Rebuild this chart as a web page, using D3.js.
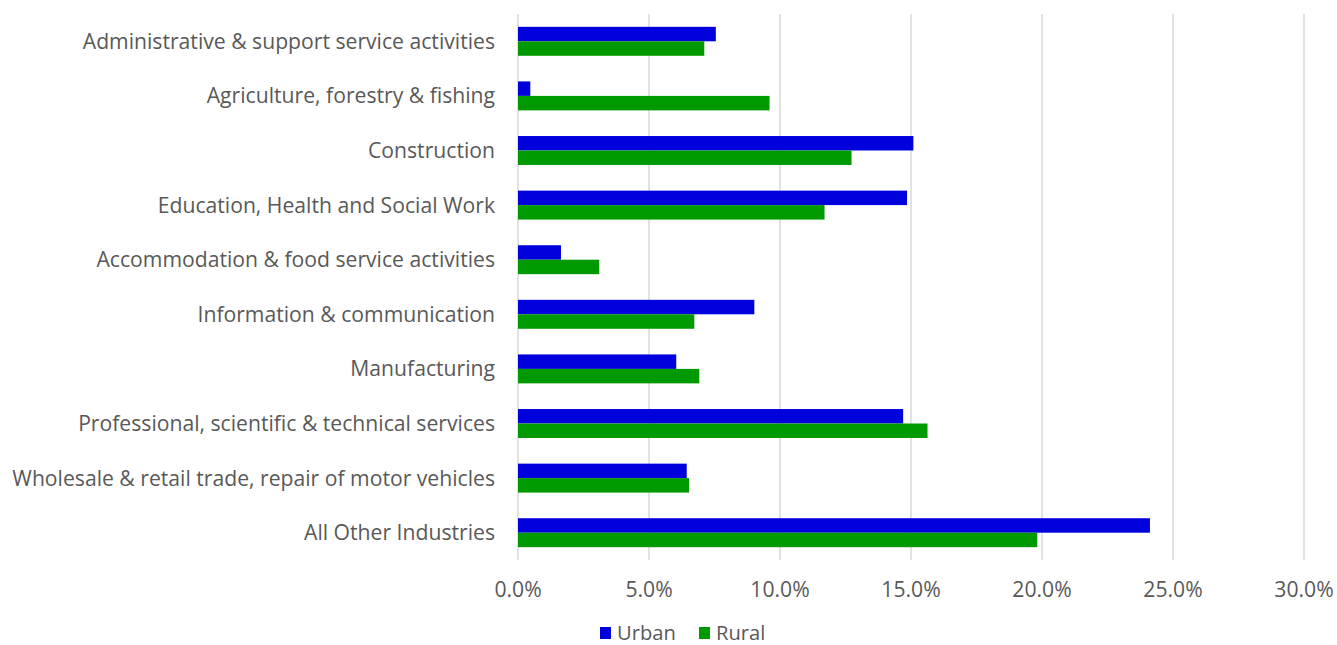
<!DOCTYPE html>
<html><head><meta charset="utf-8">
<script src="https://cdn.jsdelivr.net/npm/d3@7"></script>
<style>body{margin:0;background:#fff;} svg{display:block;}</style>
</head><body>
<svg id="chart" width="1337" height="645"></svg>
<script>
const categories = [
  "Administrative & support service activities",
  "Agriculture, forestry & fishing",
  "Construction",
  "Education, Health and Social Work",
  "Accommodation & food service activities",
  "Information & communication",
  "Manufacturing",
  "Professional, scientific & technical services",
  "Wholesale & retail trade, repair of motor vehicles",
  "All Other Industries"
];
const urban = [7.55, 0.47, 15.09, 14.85, 1.64, 9.02, 6.04, 14.7, 6.44, 24.12];
const rural = [7.11, 9.6, 12.73, 11.7, 3.1, 6.73, 6.92, 15.63, 6.53, 19.82];
const seriesNames = ["Urban", "Rural"];
const seriesColors = ["#0000dd", "#009900"];
const xTicks = [0, 5, 10, 15, 20, 25, 30];

const svg = d3.select("#chart");
const font = "'Open Sans', sans-serif";
const textColor = "#595959";

const x = d3.scaleLinear().domain([0, 30]).range([518, 1304]);
const y = d3.scaleBand().domain(categories).range([14, 560]).paddingInner(0.47).paddingOuter(0.235);
const ySub = d3.scaleBand().domain(seriesNames).range([0, y.bandwidth()]);

// gridlines
svg.append("g").selectAll("line").data(xTicks).join("line")
  .attr("x1", d => x(d)).attr("x2", d => x(d))
  .attr("y1", 14).attr("y2", 560)
  .attr("stroke", "#d9d9d9").attr("stroke-width", 1.5);

// bars
const data = categories.map((c, i) => ({c, vals: [urban[i], rural[i]]}));
const groups = svg.append("g").selectAll("g").data(data).join("g")
  .attr("transform", d => `translate(0,${y(d.c)})`);
groups.selectAll("rect").data(d => d.vals.map((v, j) => ({v, s: seriesNames[j], j}))).join("rect")
  .attr("x", x(0))
  .attr("y", d => ySub(d.s))
  .attr("width", d => x(d.v) - x(0))
  .attr("height", ySub.bandwidth())
  .attr("fill", d => seriesColors[d.j]);

// category labels
const labels = svg.append("g").selectAll("text").data(categories).join("text")
  .attr("x", 495)
  .attr("y", d => y(d) + y.bandwidth() / 2)
  .attr("dy", "0.35em")
  .attr("text-anchor", "end")
  .attr("font-family", font)
  .attr("font-size", 18)
  .attr("fill", textColor)
  .text(d => d);
// fit longest label to reference width
let maxW = 0;
labels.each(function(){ maxW = Math.max(maxW, this.getComputedTextLength()); });
const fs = 18 * 483 / maxW;
labels.attr("font-size", fs);

// x axis tick labels
svg.append("g").selectAll("text").data(xTicks).join("text")
  .attr("x", d => x(d))
  .attr("y", 590)
  .attr("dy", "0.35em")
  .attr("text-anchor", "middle")
  .attr("font-family", font)
  .attr("font-size", fs)
  .attr("fill", textColor)
  .text(d => d3.format(".1f")(d) + "%");

// legend
const legendX = [600, 699];
const lg = svg.append("g").selectAll("g").data(seriesNames).join("g")
  .attr("transform", (d, i) => `translate(${legendX[i]},633)`);
lg.append("rect").attr("x", 0).attr("y", -6).attr("width", 11).attr("height", 12)
  .attr("fill", (d, i) => seriesColors[i]);
lg.append("text").attr("x", 17).attr("y", 0).attr("dy", "0.35em")
  .attr("font-family", font).attr("font-size", fs - 1).attr("fill", textColor)
  .text(d => d);
</script>
</body></html>
